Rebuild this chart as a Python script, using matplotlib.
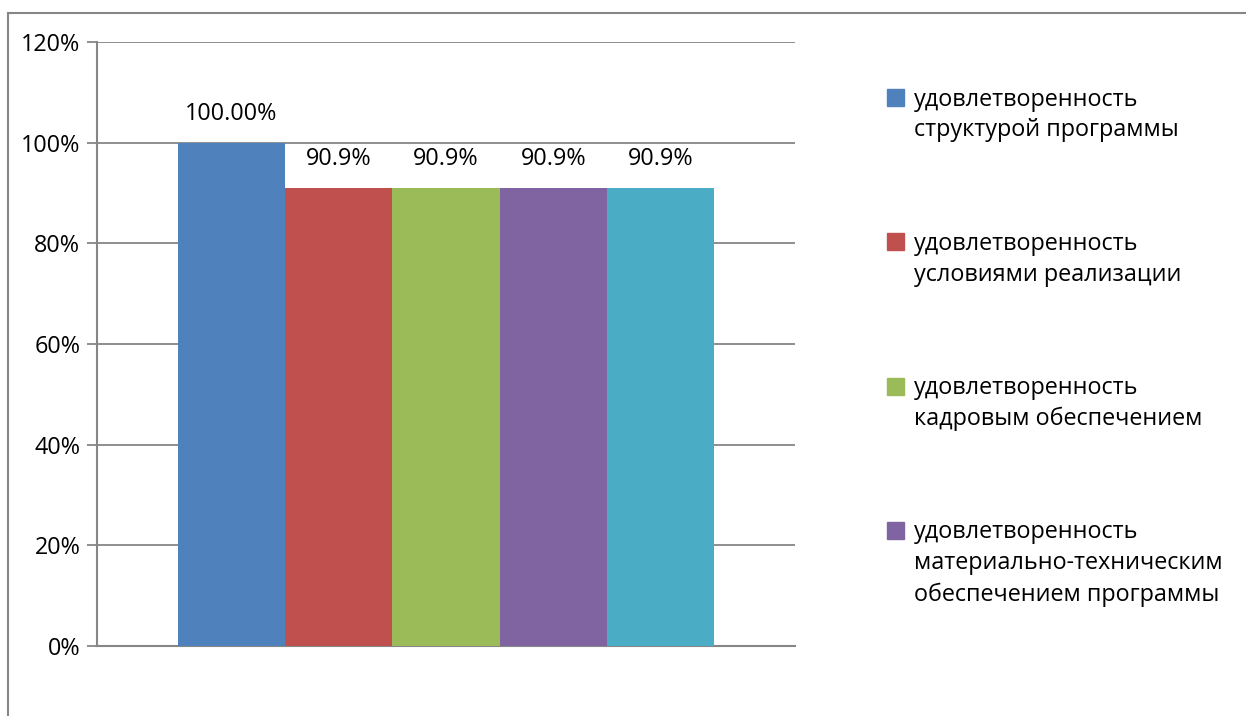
import matplotlib
matplotlib.use("Agg")
import matplotlib.pyplot as plt
from matplotlib.patches import Rectangle
from matplotlib.lines import Line2D
import numpy as np

plt.rcParams['font.family'] = ['Open Sans', 'DejaVu Sans']

series = [
    "удовлетворенность\nструктурой программы",
    "удовлетворенность\nусловиями реализации",
    "удовлетворенность\nкадровым обеспечением",
    "удовлетворенность\nматериально-техническим\nобеспечением программы",
    "удовлетворенность",
]
values = [1.0, 0.909, 0.909, 0.909, 0.909]
labels = ["100.00%", "90.9%", "90.9%", "90.9%", "90.9%"]
yticks = [0, 0.2, 0.4, 0.6, 0.8, 1.0, 1.2]
ytick_labels = ["0%", "20%", "40%", "60%", "80%", "100%", "120%"]
colors = ["#4F81BD", "#C0504D", "#9BBB59", "#8064A2", "#4BACC6"]
legend_shown = 4

W, H = 1246, 716
fig = plt.figure(figsize=(W / 100, H / 100), dpi=100)

def fx(x):
    return x / W

def fy(y):
    return 1 - y / H

ax = fig.add_axes([fx(97), fy(646), fx(795) - fx(97), fy(42) - fy(646)])

grid_c = "#868686"
n = len(values)
bw = 0.1537
offsets = (np.arange(n) - (n - 1) / 2) * bw
for i in range(n):
    ax.bar(offsets[i], values[i], width=bw, color=colors[i], zorder=3)
    ax.annotate(labels[i], (offsets[i], values[i]), xytext=(0, 21.0),
                textcoords="offset points", ha="center", va="center",
                fontsize=16.8, color="#000000", zorder=4)

ax.set_xlim(-0.5, 0.5)
ax.set_ylim(0, 1.2)
ax.set_yticks(yticks)
ax.set_yticklabels(ytick_labels, fontsize=16.8)
ax.set_xticks([])
ax.yaxis.grid(True, color=grid_c, linewidth=1.3, zorder=0)
ax.tick_params(axis="y", length=7, width=1.3, color=grid_c, pad=5)
for s in ["top", "right"]:
    ax.spines[s].set_visible(False)
for s in ["left", "bottom"]:
    ax.spines[s].set_color(grid_c)
    ax.spines[s].set_linewidth(1.5)
ax.set_axisbelow(True)

# manual legend
for k in range(legend_shown):
    cy = 97.5 + 144.3 * k
    fig.add_artist(Rectangle((fx(887), fy(cy + 8.5)), fx(17), 17 / H,
                             transform=fig.transFigure, color=colors[k]))
    fig.text(fx(914), fy(cy - 10), series[k], transform=fig.transFigure,
             ha="left", va="top", fontsize=16.8, linespacing=1.38, color="#000000")

# outer chart frame (cropped)
fig.add_artist(Line2D([fx(8), 1.0], [fy(13), fy(13)], transform=fig.transFigure,
                      color=grid_c, linewidth=1.5))
fig.add_artist(Line2D([fx(8), fx(8)], [fy(13), 0.0], transform=fig.transFigure,
                      color=grid_c, linewidth=1.5))

fig.savefig("out.png", dpi=100)
